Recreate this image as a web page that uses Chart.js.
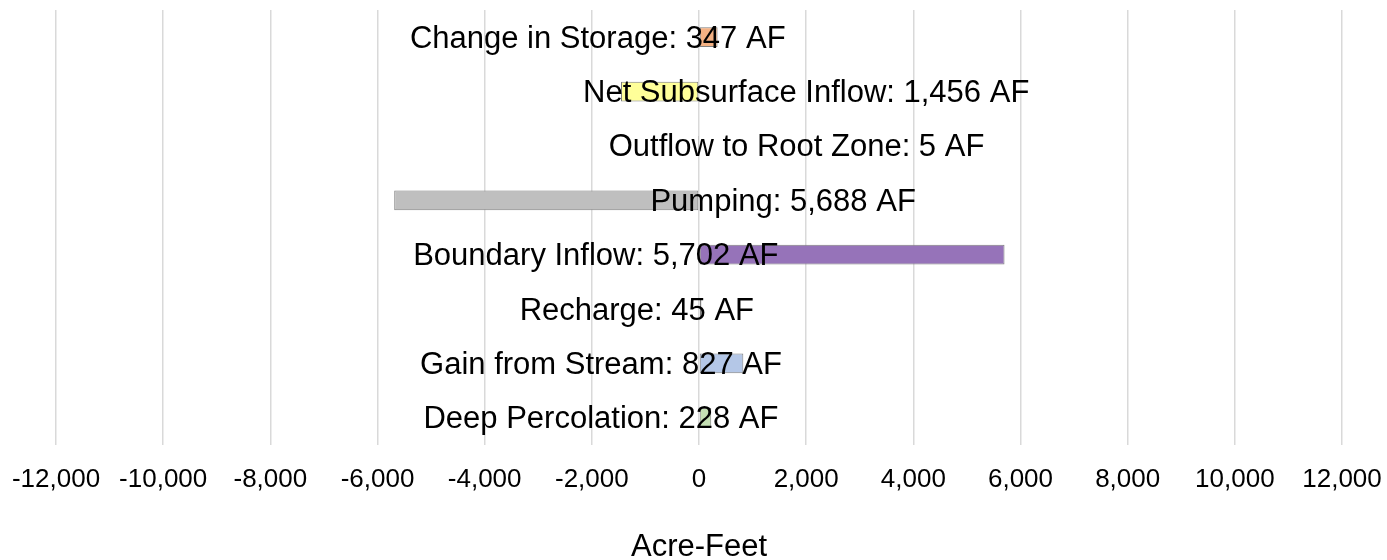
<!DOCTYPE html>
<html>
<head>
<meta charset="utf-8">
<script src="https://cdn.jsdelivr.net/npm/chart.js@4.4.1/dist/chart.umd.min.js"></script>
<style>
  html, body { margin: 0; padding: 0; background: #fff; }
  .chart-wrapper { position: relative; width: 1387px; height: 560px; }
</style>
</head>
<body>
<div class="chart-wrapper">
  <canvas id="budgetChart"></canvas>
</div>
<script>
// water budget components, top to bottom
const categories = [
  'Change in Storage',
  'Net Subsurface Inflow',
  'Outflow to Root Zone',
  'Pumping',
  'Boundary Inflow',
  'Recharge',
  'Gain from Stream',
  'Deep Percolation'
];
const values = [347, -1456, -5, -5688, 5702, 45, 827, 228];
const barColors = ['#f4b183', '#ffff99', '#a5a5a5', '#bfbfbf', '#9673b9', '#e8a317', '#b4c7e7', '#c5e0b4'];
// where each data label is centred, in acre-feet along the x axis
const labelAnchors = [-1890, 2000, 1820, 1570, -1925, -1160, -1830, -1830];
const xTicks = [-12000, -10000, -8000, -6000, -4000, -2000, 0, 2000, 4000, 6000, 8000, 10000, 12000];

const FONT = "'Liberation Sans', Arial, sans-serif";

const barLabels = {
  id: 'barLabels',
  afterDatasetsDraw(chart) {
    const ctx = chart.ctx;
    const meta = chart.getDatasetMeta(0);
    const x = chart.scales.x;
    ctx.save();
    ctx.font = '31px ' + FONT;
    ctx.fillStyle = '#000';
    ctx.textAlign = 'center';
    ctx.textBaseline = 'middle';
    meta.data.forEach((bar, i) => {
      const txt = categories[i] + ': ' + Math.abs(values[i]).toLocaleString('en-US') + ' AF';
      ctx.fillText(txt, x.getPixelForValue(labelAnchors[i]), bar.y + 2);
    });
    ctx.restore();
  }
};

new Chart(document.getElementById('budgetChart').getContext('2d'), {
  type: 'bar',
  data: {
    labels: categories,
    datasets: [{
      data: values,
      backgroundColor: barColors,
      borderColor: '#7f7f7f',
      borderWidth: 1,
      borderSkipped: false,
      categoryPercentage: 1,
      barPercentage: 0.365
    }]
  },
  options: {
    indexAxis: 'y',
    responsive: true,
    maintainAspectRatio: false,
    animation: false,
    layout: { padding: { left: 56, right: 45, top: 10, bottom: 0 } },
    plugins: { legend: { display: false }, tooltip: { enabled: false } },
    scales: {
      x: {
        min: -12000,
        max: 12000,
        afterBuildTicks(axis) { axis.ticks = xTicks.map(v => ({ value: v })); },
        // let layout padding alone decide the plot width
        afterFit(axis) { axis.paddingLeft = 0; axis.paddingRight = 0; },
        grid: { color: '#d9d9d9', lineWidth: 1.5, drawTicks: false },
        border: { display: false },
        ticks: {
          color: '#000',
          padding: 19,
          maxRotation: 0,
          font: { family: FONT, size: 26, lineHeight: 1.2 },
          callback: v => Number(v).toLocaleString('en-US')
        },
        title: {
          display: true,
          text: 'Acre-Feet',
          color: '#000',
          padding: { top: 21, bottom: 0 },
          font: { family: FONT, size: 31, lineHeight: 0.8 }
        }
      },
      y: { display: false }
    }
  },
  plugins: [barLabels]
});
</script>
</body>
</html>
